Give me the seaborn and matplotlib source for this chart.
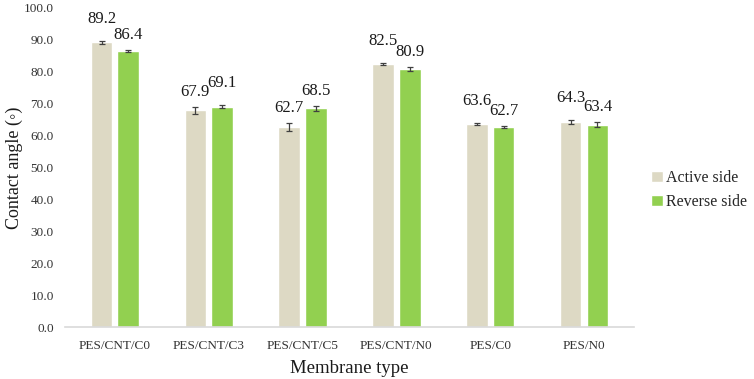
import pandas as pd
import numpy as np
import matplotlib
matplotlib.use('Agg')
import matplotlib.pyplot as plt
import seaborn as sns

# data
membranes = ['PES/CNT/C0', 'PES/CNT/C3', 'PES/CNT/C5', 'PES/CNT/N0', 'PES/C0', 'PES/N0']
active_side = [89.2, 67.9, 62.7, 82.5, 63.6, 64.3]
reverse_side = [86.4, 69.1, 68.5, 80.9, 62.7, 63.4]
active_err = [0.5, 1.0, 1.2, 0.4, 0.4, 0.6]
reverse_err = [0.3, 0.5, 0.9, 0.5, 0.4, 0.8]
sides = ['Active side', 'Reverse side']

df = pd.DataFrame({
    'membrane': membranes * 2,
    'side': [sides[0]] * len(membranes) + [sides[1]] * len(membranes),
    'angle': active_side + reverse_side,
    'err': active_err + reverse_err,
})

sns.set_theme(style='white')
plt.rcParams['font.family'] = ['Liberation Serif', 'DejaVu Serif']

fig = plt.figure(figsize=(7.54, 3.79), dpi=100)
ax = fig.add_axes([0.086, 0.137, 0.755, 0.842])

palette = {'Active side': '#DDD9C4', 'Reverse side': '#92D050'}
sns.barplot(data=df, x='membrane', y='angle', hue='side', palette=palette,
            width=0.57, gap=0.19, errorbar=None, saturation=1, ax=ax)

# error bars on top of each bar
bar_groups = list(ax.containers)
label_pts = []
for i, cont in enumerate(bar_groups):
    sub = df[df['side'] == sides[i]]
    for bar, val, e in zip(cont.patches, sub['angle'], sub['err']):
        xc = bar.get_x() + bar.get_width() / 2
        ax.errorbar(xc, val, yerr=e, color='#404040', capsize=2.5,
                    elinewidth=0.9, capthick=0.9)
        label_pts.append((xc, val, val + e))

# stagger labels of a pair when they would overlap (like Excel does)
n = len(membranes)
offsets = [5] * (2 * n)
for k in range(n):
    a, b = label_pts[k], label_pts[k + n]
    if abs(a[2] - b[2]) < 4:
        hi = k if a[2] >= b[2] else k + n
        offsets[hi] = 10
for (xc, val, top), off in zip(label_pts, offsets):
    ax.annotate(f'{val:.1f}', (xc, top), xytext=(0, off),
                textcoords='offset points', ha='center', va='bottom',
                fontsize=12, color='#1a1a1a')

ax.set_ylim(0, 100)
ax.set_yticks(np.arange(0, 101, 10))
ax.set_yticklabels([f'{v:.1f}' for v in np.arange(0, 101, 10)])
ax.tick_params(axis='both', labelsize=9.5, colors='#333333', length=0)
ax.tick_params(axis='y', pad=8)
ax.tick_params(axis='x', pad=9)
ax.set_xlabel('Membrane type', fontsize=13.5, color='#1a1a1a', labelpad=6)
ax.set_ylabel('Contact angle (◦)', fontsize=13, color='#1a1a1a')
ax.yaxis.set_label_coords(-0.074, 0.5)

for s in ['top', 'right', 'left']:
    ax.spines[s].set_visible(False)
ax.spines['bottom'].set_color('#D9D9D9')
ax.spines['bottom'].set_linewidth(1.2)

ax.legend(loc='center left', bbox_to_anchor=(1.005, 0.43), frameon=False,
          fontsize=11.5, handlelength=0.7, handleheight=0.7, handletextpad=0.2,
          labelspacing=0.5)

fig.savefig('out.png', dpi=100)
